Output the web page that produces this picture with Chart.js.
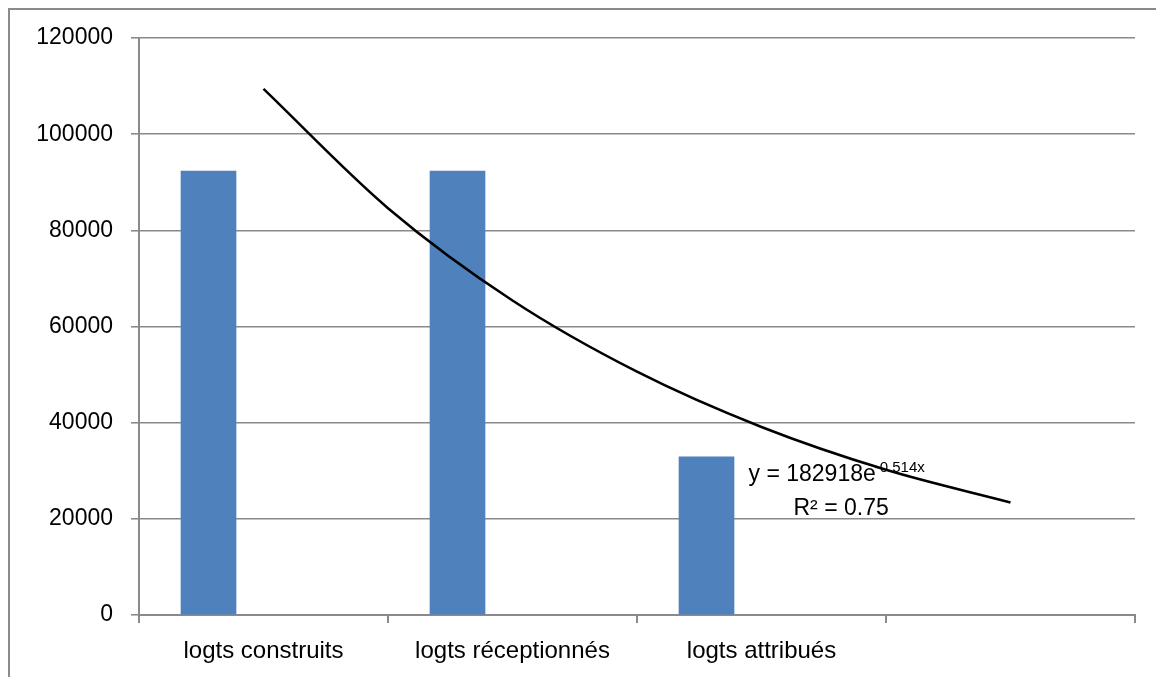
<!DOCTYPE html>
<html lang="fr">
<head>
  <meta charset="utf-8">
  <title>Logements</title>
  <script src="https://cdn.jsdelivr.net/npm/chart.js"></script>
  <style>
    html, body { margin: 0; padding: 0; background: #fff; }
    .graf { width: 1156px; height: 677px; position: relative; }
  </style>
</head>
<body>
  <div class="graf">
    <canvas id="logts"></canvas>
  </div>

<script>
  // categories (4e case vide, comme dans Excel)
  const categories = ['logts construits', 'logts réceptionnés', 'logts attribués', ''];
  // valeurs des barres
  const logements = [92300, 92300, 32900, null];
  // courbe de tendance (x = 1 .. 4)
  const tendanceX = [1, 1.5, 2, 2.5, 3, 3.5, 4];
  const tendanceY = [109400, 84600, 65400, 50600, 39100, 30200, 23400];
  const yTicks = [0, 20000, 40000, 60000, 80000, 100000, 120000];
  const equation = 'y = 182918e';
  const exposant = '-0.514x';
  const r2 = 'R² = 0.75';

  const gris = '#8a8a8a';
  const police = "'Liberation Sans', Arial, sans-serif";

  // cadre exterieur + texte de l'equation
  const decor = {
    id: 'decor',
    beforeDraw(chart) {
      const ctx = chart.ctx;
      ctx.save();
      ctx.fillStyle = '#fff';
      ctx.fillRect(0, 0, chart.width, chart.height);
      ctx.strokeStyle = gris;
      ctx.lineWidth = 2;
      ctx.strokeRect(9, 9, chart.width + 20, chart.height + 20);
      ctx.restore();
    },
    beforeDatasetsDraw(chart) {
      const ctx = chart.ctx;
      const x = chart.scales.x.getPixelForValue(3) - 13;
      const y = chart.scales.y.getPixelForValue(27800);
      ctx.save();
      ctx.fillStyle = '#000';
      ctx.textBaseline = 'alphabetic';
      ctx.font = '23px ' + police;
      ctx.fillText(equation, x, y);
      const w = ctx.measureText(equation).width;
      ctx.font = '15px ' + police;
      ctx.fillText(exposant, x + w - 1, y - 9);
      ctx.font = '23px ' + police;
      ctx.fillText(r2, x + 45, y + 34);
      ctx.restore();
    }
  };

  const barres = { type: 'bar', backgroundColor: '#4F81BD', barThickness: 55, order: 1 };

  // points des barres : x = numero de la categorie (1..4)
  const pontosBarras = logements
    .map((v, i) => ({ x: i + 1, y: v }))
    .filter(p => p.y !== null);

  const dados = {
    datasets: [
      Object.assign({ label: 'logements', data: pontosBarras }, barres),
      Object.assign({ label: 'vide1', data: [] }, barres),
      Object.assign({ label: 'vide2', data: [] }, barres),
      {
        type: 'line',
        label: 'tendance',
        data: tendanceX.map((v, i) => ({ x: v, y: tendanceY[i] })),
        borderColor: '#000',
        borderWidth: 2.5,
        pointRadius: 0,
        cubicInterpolationMode: 'monotone',
        fill: false,
        order: 0
      }
    ]
  };

  const config = {
    type: 'bar',
    data: dados,
    plugins: [decor],
    options: {
      responsive: true,
      maintainAspectRatio: false,
      animation: false,
      layout: { padding: { top: 38, right: 21, left: 0, bottom: 0 } },
      plugins: { legend: { display: false }, tooltip: { enabled: false } },
      scales: {
        x: {
          type: 'linear',
          min: 0.5,
          max: 4.5,
          offset: false,
          afterBuildTicks(scale) { scale.ticks = categories.map((c, i) => ({ value: i + 1 })); },
          grid: { display: true, drawOnChartArea: false, offset: true, tickLength: 8, color: gris, lineWidth: 2 },
          border: { display: true, color: gris, width: 2 },
          ticks: {
            color: '#000',
            font: { family: police, size: 24 },
            padding: 14,
            maxRotation: 0,
            autoSkip: false,
            callback: (v) => categories[Math.round(v) - 1] || ''
          },
          afterFit(scale) { scale.height = 62; }
        },
        y: {
          min: 0,
          max: 120000,
          afterBuildTicks(scale) { scale.ticks = yTicks.map(v => ({ value: v })); },
          grid: { color: gris, lineWidth: 1.6, tickLength: 8 },
          border: { display: true, color: gris, width: 2 },
          ticks: {
            color: '#000',
            font: { family: police, size: 23 },
            padding: 18,
            callback: (v) => String(v)
          },
          afterFit(scale) { scale.width = 139; }
        }
      }
    }
  };

  let myChart = new Chart(document.getElementById('logts'), config);
</script>
</body>
</html>
